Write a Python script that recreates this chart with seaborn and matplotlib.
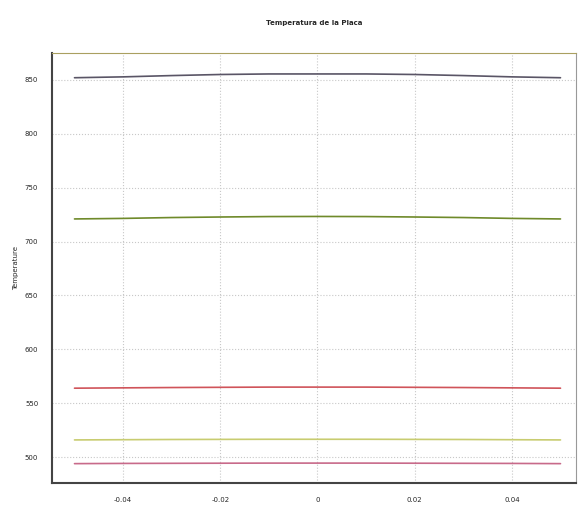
import matplotlib.pyplot as plt
import seaborn as sns
import numpy as np
import pandas as pd

# positions along the plate
x = [-0.05, -0.04, -0.03, -0.02, -0.01, 0.0, 0.01, 0.02, 0.03, 0.04, 0.05]

# temperature profiles
t1 = [852, 852.8, 854, 855, 855.5, 855.5, 855.5, 855, 854, 852.8, 852]
t2 = [721, 721.5, 722.3, 722.8, 723.2, 723.3, 723.2, 722.8, 722.3, 721.5, 721]
t3 = [564, 564.3, 564.6, 564.8, 565, 565, 565, 564.8, 564.6, 564.3, 564]
t4 = [516, 516.2, 516.4, 516.5, 516.6, 516.6, 516.6, 516.5, 516.4, 516.2, 516]
t5 = [494, 494.2, 494.3, 494.4, 494.5, 494.5, 494.5, 494.4, 494.3, 494.2, 494]

names = ["t1", "t2", "t3", "t4", "t5"]
colors = ["#5a5566", "#6f8a2a", "#d0545a", "#c8cc70", "#c86a8a"]


def draw_plot():
    df = pd.DataFrame({"x": x * 5,
                       "temp": t1 + t2 + t3 + t4 + t5,
                       "serie": np.repeat(names, len(x))})

    sns.set_style("white")
    fig, ax = plt.subplots(figsize=(5.86, 5.09), dpi=100)
    fig.subplots_adjust(left=0.089, right=0.983, top=0.896, bottom=0.051)

    sns.lineplot(data=df, x="x", y="temp", hue="serie", palette=colors,
                 linewidth=1.2, legend=False, ax=ax)

    ax.set_xlim(-0.0546, 0.0532)
    ax.set_ylim(476, 875)
    ax.set_xticks([-0.04, -0.02, 0, 0.02, 0.04])
    ax.set_xticklabels(["-0.04", "-0.02", "0", "0.02", "0.04"])
    ax.set_yticks([500, 550, 600, 650, 700, 750, 800, 850])
    ax.tick_params(labelsize=5, length=3, direction="in", pad=10)
    ax.grid(True, linestyle=":", color="#c8c8c8", linewidth=0.8)

    for side in ["left", "bottom"]:
        ax.spines[side].set_color("#444444")
        ax.spines[side].set_linewidth(1.5)
    ax.spines["top"].set_color("#aaa060")
    ax.spines["right"].set_color("#999999")

    ax.set_xlabel("")
    ax.set_ylabel("Temperature", fontsize=5)
    ax.set_title("Temperatura de la Placa", fontsize=5, fontweight="bold", pad=20)

    plt.savefig("out.png", dpi=100)


draw_plot()
